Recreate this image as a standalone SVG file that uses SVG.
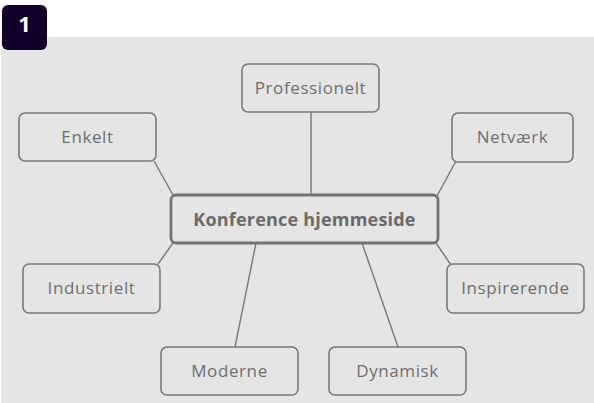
<svg xmlns="http://www.w3.org/2000/svg" width="594" height="403" viewBox="0 0 594 403">
<style>
.node rect{fill:#e5e5e5;stroke:#787878;stroke-width:1.6}
.node text{font-family:"Open Sans","Liberation Sans",sans-serif;font-size:17px;letter-spacing:0.6px;fill:#6e6e6e;text-anchor:middle}
#center rect{stroke-width:2.8;stroke:#737373}
#center text{font-weight:bold;font-size:18px;letter-spacing:0.2px;fill:#6a6a6a}
#links line{stroke:#787878;stroke-width:1.4}
</style>
<rect x="0" y="0" width="594" height="403" fill="#ffffff"/>
<rect x="1" y="37" width="593" height="366" fill="#e5e5e5"/>
<g id="badge">
<rect x="2" y="5" width="45" height="45" rx="6" fill="#13002a"/>
<text x="24.5" y="31.5" font-family="Open Sans,Liberation Sans,sans-serif" font-weight="bold" font-size="22" fill="#ffffff" text-anchor="middle">1</text>
</g>
<g id="links">
<line x1="311" y1="112" x2="311" y2="195"/>
<line x1="154" y1="161" x2="173" y2="195"/>
<line x1="456" y1="161" x2="437" y2="196"/>
<line x1="436" y1="243" x2="451" y2="265"/>
<line x1="173" y1="243" x2="158" y2="264"/>
<line x1="256" y1="243" x2="235" y2="347"/>
<line x1="362" y1="243" x2="398" y2="347"/>
</g>
<g id="center" class="node"><rect x="171" y="195" width="267" height="48" rx="5"/><text x="304.5" y="226">Konference hjemmeside</text></g>
<g id="professionelt" class="node"><rect x="242" y="64" width="137" height="48" rx="6"/><text x="310.5" y="94">Professionelt</text></g>
<g id="enkelt" class="node"><rect x="19" y="113" width="137" height="48" rx="6"/><text x="87.5" y="143">Enkelt</text></g>
<g id="netvaerk" class="node"><rect x="452" y="113" width="121" height="49" rx="6"/><text x="512.5" y="143">Netværk</text></g>
<g id="industrielt" class="node"><rect x="23" y="264" width="137" height="49" rx="6"/><text x="91.5" y="294">Industrielt</text></g>
<g id="inspirerende" class="node"><rect x="447" y="264" width="137" height="49" rx="6"/><text x="515.5" y="294">Inspirerende</text></g>
<g id="moderne" class="node"><rect x="161" y="347" width="137" height="48" rx="6"/><text x="229.5" y="377">Moderne</text></g>
<g id="dynamisk" class="node"><rect x="329" y="347" width="137" height="48" rx="6"/><text x="397.5" y="377">Dynamisk</text></g>
</svg>
